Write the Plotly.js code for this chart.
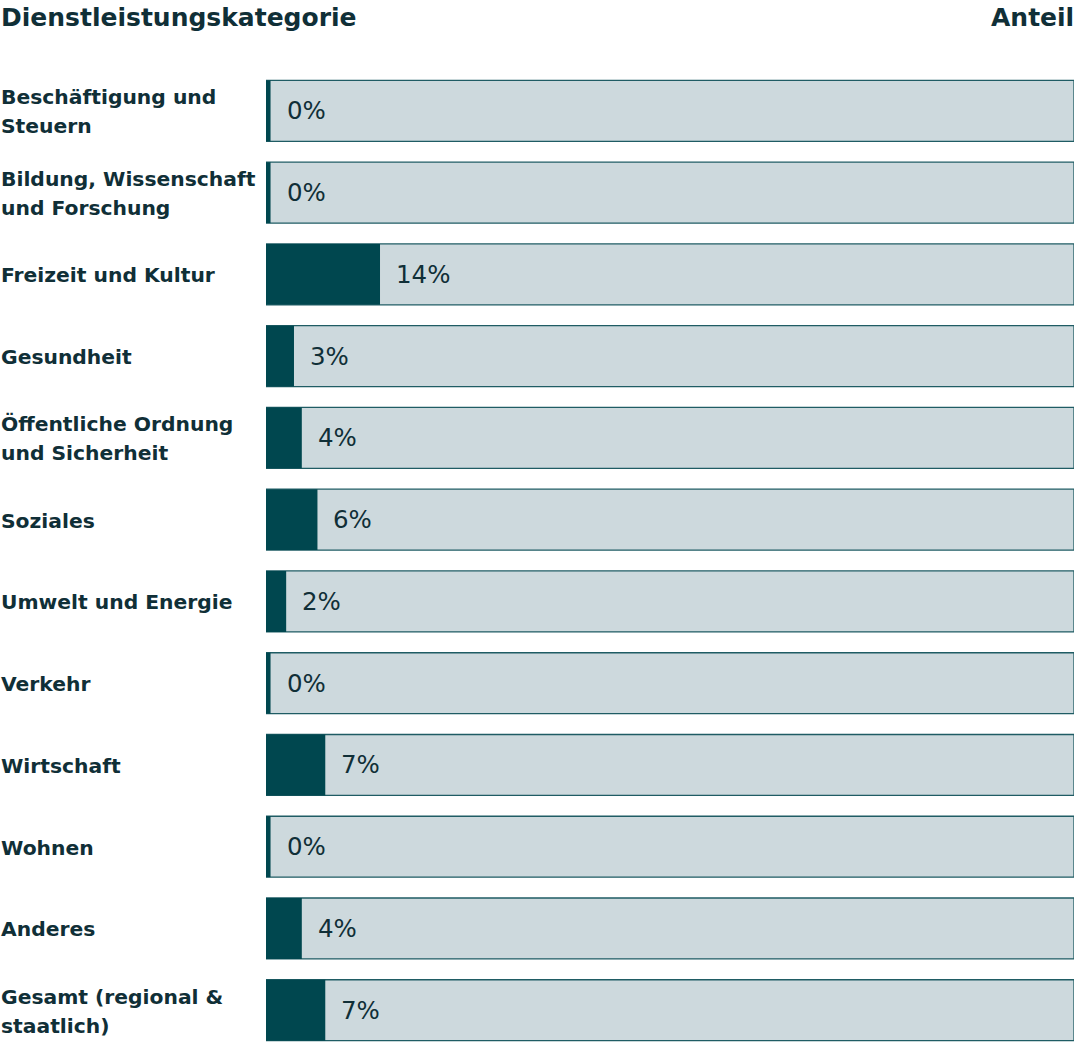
<!DOCTYPE html>
<html>
<head>
<meta charset="utf-8">
<script src="https://cdn.plot.ly/plotly-3.0.1.min.js"></script>
<style>
  html, body { margin: 0; padding: 0; background: #fff; }
  #chart { width: 1080px; height: 1047px; }
</style>
</head>
<body>
<div id="chart"></div>
<script>
// --- Data ---
const categories = [
    'Beschäftigung und<br>Steuern',
    'Bildung, Wissenschaft<br>und Forschung',
    'Freizeit und Kultur',
    'Gesundheit',
    'Öffentliche Ordnung<br>und Sicherheit',
    'Soziales',
    'Umwelt und Energie',
    'Verkehr',
    'Wirtschaft',
    'Wohnen',
    'Anderes',
    'Gesamt (regional &<br>staatlich)'
];
const anteil = [0, 0, 14, 3, 4, 6, 2, 0, 7, 0, 4, 7];
const anteilLabels = anteil.map(v => v + '%');

// --- Style ---
const darkFill = '#00474f';
const lightFill = '#cdd9dd';
const borderCol = '#1f5c64';
const textCol = '#102f37';
const fontFam = '"DejaVu Sans", "Open Sans", sans-serif';
const lineGap = 29; // px between the two lines of a wrapped label

// axis: 0 sits a few px right of the plot edge (dark stub visible at 0%)
const xMin = -0.58, xMax = 102.75;

const idx = categories.map((_, i) => i);

const traces = [
    {
        type: 'bar',
        orientation: 'h',
        y: idx,
        x: idx.map(() => xMax - xMin),
        base: xMin,
        marker: { color: lightFill, line: { color: borderCol, width: 1.3 } },
        hoverinfo: 'skip',
        showlegend: false
    },
    {
        type: 'bar',
        orientation: 'h',
        y: idx,
        x: anteil.map(v => v - xMin),
        base: xMin,
        marker: { color: darkFill, line: { width: 0 } },
        hoverinfo: 'skip',
        showlegend: false
    }
];

const annotations = [];
categories.forEach((c, i) => {
    const lines = c.split('<br>');
    lines.forEach((ln, k) => {
        annotations.push({
            xref: 'paper', yref: 'y',
            x: 0, y: i,
            xanchor: 'left', yanchor: 'middle',
            xshift: -267,
            yshift: ((lines.length - 1) / 2 - k) * lineGap - 1,
            text: '<b>' + ln + '</b>',
            showarrow: false,
            font: { family: fontFam, size: 20.3, color: textCol }
        });
    });
    annotations.push({
        xref: 'x', yref: 'y',
        x: anteil[i], y: i,
        xanchor: 'left', yanchor: 'middle',
        xshift: 14,
        text: anteilLabels[i],
        showarrow: false,
        font: { family: fontFam, size: 24.5, color: textCol }
    });
});

// column headers
annotations.push({
    xref: 'paper', yref: 'paper', x: 0, y: 1, xshift: -267, yshift: 36,
    xanchor: 'left', yanchor: 'bottom',
    text: '<b>Dienstleistungskategorie</b>', showarrow: false,
    font: { family: fontFam, size: 25, color: textCol }
});
annotations.push({
    xref: 'paper', yref: 'paper', x: 1, y: 1, xshift: 2, yshift: 36,
    xanchor: 'right', yanchor: 'bottom',
    text: '<b>Anteil</b>', showarrow: false,
    font: { family: fontFam, size: 25, color: textCol }
});

const layout = {
    width: 1080,
    height: 1047,
    margin: { l: 266, r: 6, t: 70, b: 0 },
    paper_bgcolor: '#fff',
    plot_bgcolor: '#fff',
    barmode: 'overlay',
    bargap: 0.255,
    xaxis: { range: [xMin, xMax], visible: false, fixedrange: true },
    yaxis: { range: [11.45, -0.5], visible: false, fixedrange: true },
    annotations: annotations,
    showlegend: false
};

Plotly.newPlot('chart', traces, layout, { displayModeBar: false, staticPlot: true });
</script>
</body>
</html>
